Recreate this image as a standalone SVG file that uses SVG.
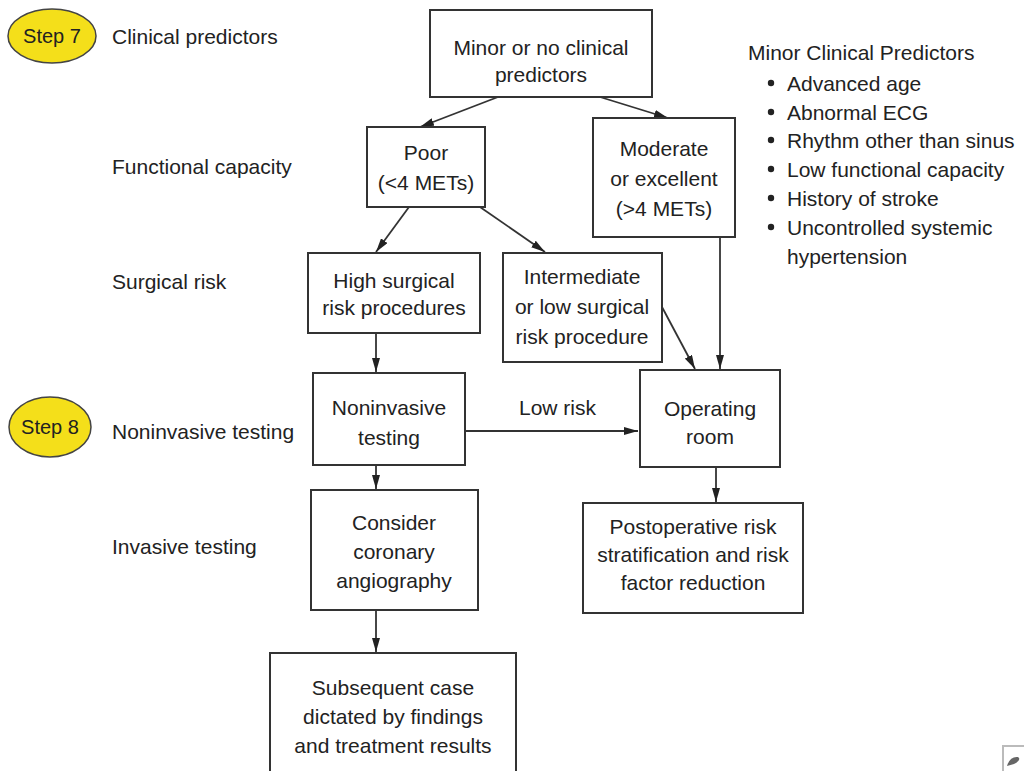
<svg xmlns="http://www.w3.org/2000/svg" width="1024" height="771" viewBox="0 0 1024 771">
<defs>
<style>
.box{fill:#fff;stroke:#333;stroke-width:2}
.t{font-family:"Liberation Sans",Arial,sans-serif;font-size:21px;fill:#222}
.s{font-size:20px}
.c{text-anchor:middle}
.step{fill:#f4df1a;stroke:#444;stroke-width:1.5}
.ln{stroke:#333;stroke-width:1.8;fill:none;marker-end:url(#ah)}
</style>
<marker id="ah" viewBox="0 0 14 8" refX="14" refY="4" markerWidth="14" markerHeight="8" markerUnits="userSpaceOnUse" orient="auto"><path d="M0,0 L14,4 L0,8 z" fill="#222"/></marker>
</defs>
<rect width="1024" height="771" fill="#fff"/>
<g id="labels">
<g id="step7"><ellipse class="step" cx="52" cy="36" rx="44" ry="27"/><text class="t s c" x="52" y="43">Step 7</text></g>
<text class="t" x="112" y="44">Clinical predictors</text>
<text class="t" x="112" y="174">Functional capacity</text>
<text class="t" x="112" y="289">Surgical risk</text>
<g id="step8"><ellipse class="step" cx="50" cy="427" rx="41" ry="30"/><text class="t s c" x="50" y="434">Step 8</text></g>
<text class="t" x="112" y="439">Noninvasive testing</text>
<text class="t" x="112" y="554">Invasive testing</text>
</g>
<g id="minor-list">
<text class="t" x="748" y="60">Minor Clinical Predictors</text>
<g fill="#222"><circle cx="771" cy="83" r="3.2"/><circle cx="771" cy="112" r="3.2"/><circle cx="771" cy="140" r="3.2"/><circle cx="771" cy="169" r="3.2"/><circle cx="771" cy="198" r="3.2"/><circle cx="771" cy="227" r="3.2"/></g>
<text class="t" x="787" y="91">Advanced age</text>
<text class="t" x="787" y="120">Abnormal ECG</text>
<text class="t" x="787" y="148">Rhythm other than sinus</text>
<text class="t" x="787" y="177">Low functional capacity</text>
<text class="t" x="787" y="206">History of stroke</text>
<text class="t" x="787" y="235">Uncontrolled systemic</text>
<text class="t" x="787" y="264">hypertension</text>
</g>
<g id="connectors">
<line class="ln" x1="498" y1="97" x2="420" y2="127"/>
<line class="ln" x1="600" y1="97" x2="668" y2="118"/>
<line class="ln" x1="409" y1="207" x2="376" y2="252"/>
<line class="ln" x1="480" y1="207" x2="545" y2="252"/>
<line class="ln" x1="720" y1="237" x2="720" y2="369"/>
<line class="ln" x1="662" y1="307" x2="695" y2="369"/>
<line class="ln" x1="376" y1="333" x2="376" y2="372"/>
<line class="ln" x1="465" y1="431" x2="638" y2="431"/>
<line class="ln" x1="716" y1="467" x2="716" y2="502"/>
<line class="ln" x1="376" y1="465" x2="376" y2="489"/>
<line class="ln" x1="376" y1="610" x2="376" y2="652"/>
<text class="t" x="519" y="415">Low risk</text>
</g>
<g id="n-minor"><rect class="box" x="430" y="10" width="222" height="87"/><text class="t c" x="541" y="55">Minor or no clinical</text><text class="t c" x="541" y="82">predictors</text></g>
<g id="n-poor"><rect class="box" x="367" y="127" width="118" height="80"/><text class="t c" x="426" y="160">Poor</text><text class="t c" x="426" y="190">(&lt;4 METs)</text></g>
<g id="n-moderate"><rect class="box" x="593" y="118" width="142" height="119"/><text class="t c" x="664" y="156">Moderate</text><text class="t c" x="664" y="186">or excellent</text><text class="t c" x="664" y="216">(&gt;4 METs)</text></g>
<g id="n-high"><rect class="box" x="308" y="253" width="172" height="80"/><text class="t c" x="394" y="288">High surgical</text><text class="t c" x="394" y="315">risk procedures</text></g>
<g id="n-inter"><rect class="box" x="503" y="253" width="159" height="109"/><text class="t c" x="582" y="284">Intermediate</text><text class="t c" x="582" y="314">or low surgical</text><text class="t c" x="582" y="344">risk procedure</text></g>
<g id="n-nonin"><rect class="box" x="313" y="373" width="152" height="92"/><text class="t c" x="389" y="415">Noninvasive</text><text class="t c" x="389" y="445">testing</text></g>
<g id="n-or"><rect class="box" x="640" y="370" width="140" height="97"/><text class="t c" x="710" y="416">Operating</text><text class="t c" x="710" y="444">room</text></g>
<g id="n-postop"><rect class="box" x="583" y="503" width="220" height="110"/><text class="t c" x="693" y="534">Postoperative risk</text><text class="t c" x="693" y="562">stratification and risk</text><text class="t c" x="693" y="590">factor reduction</text></g>
<g id="n-consider"><rect class="box" x="311" y="490" width="167" height="120"/><text class="t c" x="394" y="530">Consider</text><text class="t c" x="394" y="559">coronary</text><text class="t c" x="394" y="588">angiography</text></g>
<g id="n-subsequent"><rect class="box" x="270" y="653" width="246" height="130"/><text class="t c" x="393" y="695">Subsequent case</text><text class="t c" x="393" y="724">dictated by findings</text><text class="t c" x="393" y="753">and treatment results</text></g>
<g id="corner-icon"><path d="M1003,771 V746 H1024" fill="none" stroke="#bbb" stroke-width="2"/><path d="M1007,766 Q1010,756 1018,757 Q1022,760 1014,764 Z" fill="#666"/></g>
</svg>
